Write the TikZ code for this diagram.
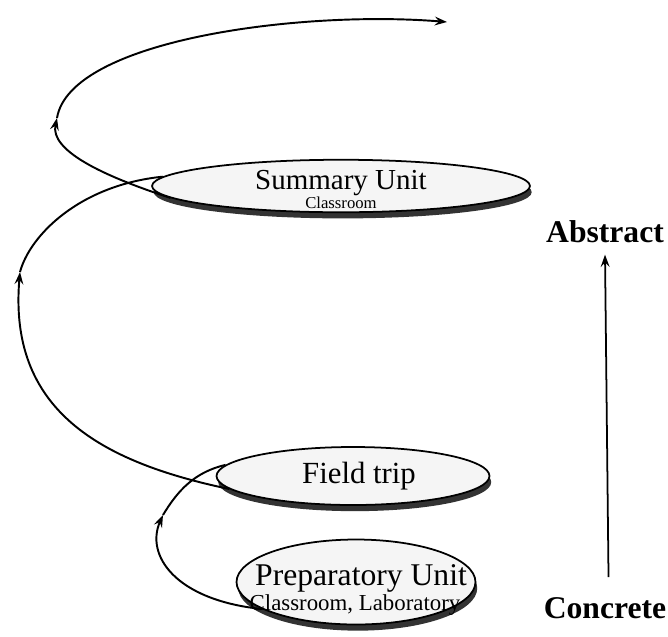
\documentclass[tikz,border=0pt]{standalone}
\usepackage{fontspec}
\setmainfont{Liberation Serif}
\usepackage{tikz}
\usetikzlibrary{shapes.geometric, arrows.meta, shadows}
\usetikzlibrary{positioning}

\begin{document}
\begin{tikzpicture}[x=0.02cm, y=-0.02cm,
  unit/.style={ellipse, draw, line width=1pt, fill=gray!8, inner sep=0pt,
    drop shadow={shadow xshift=1pt, shadow yshift=-3.5pt, fill=black!80, opacity=1}},
  spiral/.style={line width=1.1pt},
  tip/.style={-{Stealth[length=7pt, width=5pt, inset=2.5pt]}},
  side/.style={font=\fontsize{18}{20}\selectfont\bfseries}]

\useasboundingbox (0,0) rectangle (668,636);

% levels of the spiral
\node[unit, minimum width=7.56cm, minimum height=1.05cm] (summary) at (341,186) {};
\node[font=\fontsize{16.5}{17}\selectfont] (summaryname) at (341,183) {Summary Unit};
\node[font=\fontsize{9.5}{10}\selectfont] (summaryplace) at (341,203) {Classroom};

\node[unit, minimum width=5.46cm, minimum height=1.16cm] (field) at (353,476) {};
\node[font=\fontsize{17.5}{18}\selectfont] (fieldname) at (359,476) {Field trip};

\node[unit, minimum width=4.78cm, minimum height=1.7cm] (prep) at (356,582) {};
\node[font=\fontsize{18}{19}\selectfont] (prepname) at (361,578) {Preparatory Unit};
\node[font=\fontsize{13}{14}\selectfont] (prepplace) at (355,605) {Classroom, Laboratory};

% arrow points on the loops
\coordinate (a1) at (163,515);
\coordinate (a2) at (20,272);
\coordinate (a3) at (57,118);
\coordinate (top) at (447,22);

% lower loop
\draw[spiral, tip] (prep.196) .. controls (175,600) and (145,555) .. (a1);
\draw[spiral] (a1) .. controls (178,490) and (195,472) .. (field.175);

% middle loop
\draw[spiral, tip] (field.186) .. controls (100,462) and (8,410) .. (a2);
\draw[spiral] (a2) .. controls (30,235) and (80,185) .. (summary.177);

% upper loop
\draw[spiral, tip] (summary.184) .. controls (100,175) and (50,150) .. (a3);
\draw[spiral, tip] (a3) .. controls (70,40) and (300,10) .. (top);

% concrete to abstract
\node[side] (abstract) at (605,232) {Abstract};
\node[side] (concrete) at (605,608) {Concrete};
\draw[line width=1pt, tip] ([xshift=2pt, yshift=8pt]concrete.north) -- ([yshift=-3pt]abstract.south);

\end{tikzpicture}
\end{document}
